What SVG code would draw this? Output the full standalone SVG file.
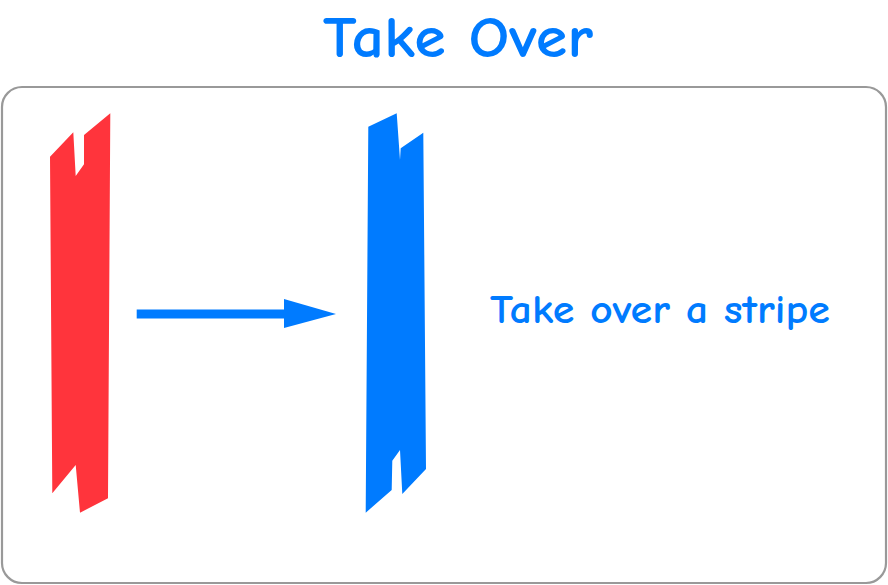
<svg xmlns="http://www.w3.org/2000/svg" width="888" height="585" viewBox="0 0 888 585">
<style>
.frame{fill:none;stroke:#999999;stroke-width:2.2}
.txt{font-family:"Comic Neue","Lato","Liberation Sans",sans-serif;fill:#007bff;font-weight:700}
</style>
<defs>
<marker id="ah" markerUnits="userSpaceOnUse" markerWidth="56" markerHeight="32" refX="2" refY="15" orient="auto">
<path d="M0,0 L52,15 L0,29 Z" fill="#007bff"/>
</marker>
</defs>
<rect width="888" height="585" fill="#ffffff"/>
<g id="title"><text class="txt" x="458" y="57" font-size="58" text-anchor="middle" textLength="270" lengthAdjust="spacingAndGlyphs">Take Over</text></g>
<g id="frame"><rect class="frame" x="2" y="87" width="884" height="496" rx="20" ry="20"/></g>
<g id="red-stripe"><path d="M50,156.7 L73.3,132.3 L75.7,176 L84,164.3 L84,135 L110.3,113.3 L108,498.3 L80,512.7 L75.7,465 L52.3,493.3 Z" fill="#ff343c"/></g>
<g id="blue-stripe"><path d="M368.3,126.7 L396.7,113.3 L400,160 L400.7,148.3 L423.3,132.7 L426,469 L402.3,494 L400,450 L392.3,460.7 L391.7,490 L365.7,512.7 Z" fill="#007bff"/></g>
<g id="label"><text class="txt" x="490" y="323" font-size="40" textLength="340" lengthAdjust="spacingAndGlyphs">Take over a stripe</text></g>
<g id="connectors"><line x1="136.7" y1="314" x2="286" y2="314" stroke="#007bff" stroke-width="9" marker-end="url(#ah)"/></g>
</svg>
